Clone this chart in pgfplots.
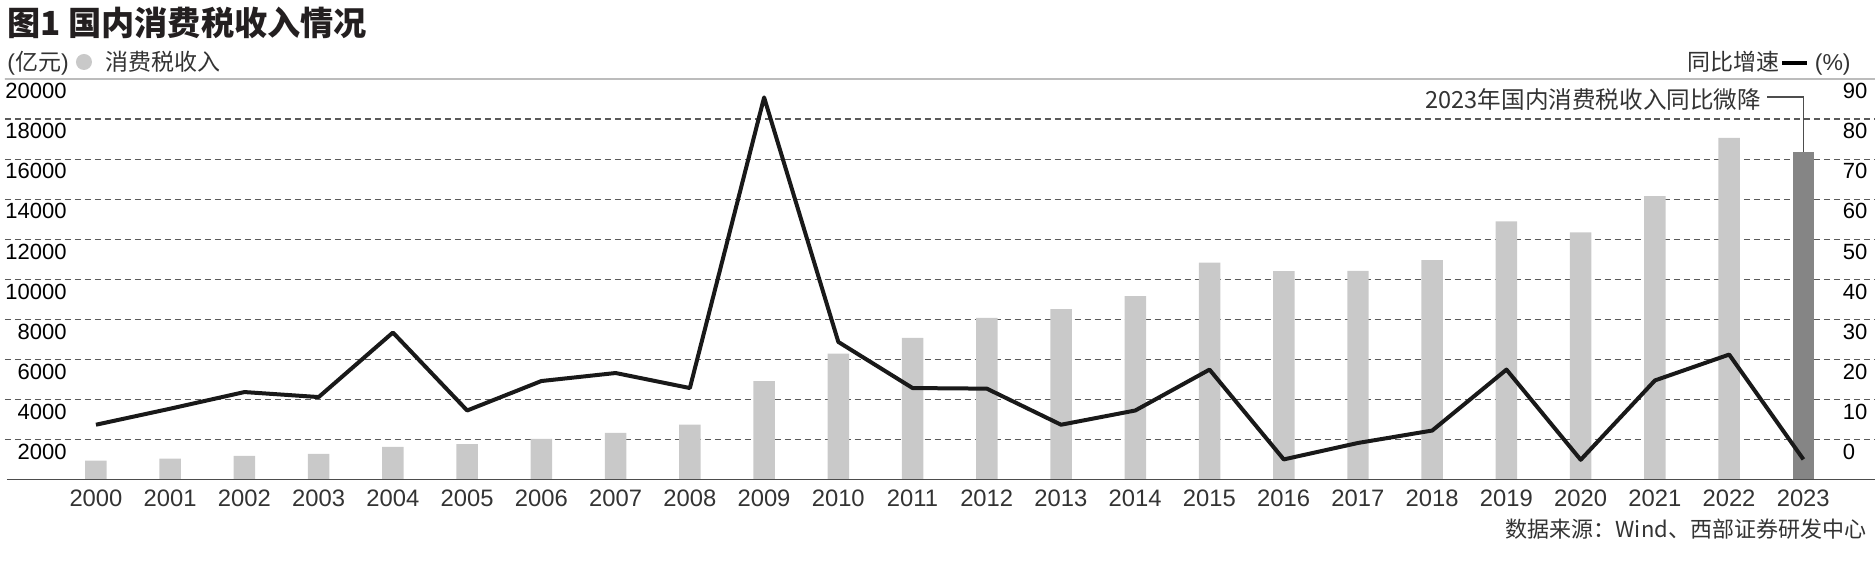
\documentclass[border=0pt]{standalone}
\usepackage{fontspec}
\usepackage{pgfplots}
\pgfplotsset{compat=1.18}
\setmainfont{Liberation Sans}
\newfontfamily\cjk{Noto Sans CJK SC}

\definecolor{barlight}{HTML}{C9C9C9}
\definecolor{bardark}{HTML}{858585}
\definecolor{gridc}{HTML}{5A5A5A}
\definecolor{axisc}{HTML}{4D4D4D}
\definecolor{topc}{HTML}{BCBCBC}
\definecolor{txt}{HTML}{333333}
\definecolor{ttl}{HTML}{231F20}

\begin{document}
\begin{tikzpicture}
% px grid: 1 unit = 1 pixel of the 1876x561 reference, origin top-left
\begin{scope}[x=0.5pt,y=-0.5pt]
\path[use as bounding box] (0,0) rectangle (1876,561);
\end{scope}

% revenue bars (left axis, 亿元)
\begin{axis}[
  at={(2.5pt,-240pt)}, anchor=south west,
  scale only axis, width=935.5pt, height=200.5pt,
  xmin=1998.7746, xmax=2023.97,
  ymin=0, ymax=20000,
  xtick={2000,...,2023},
  ytick={2000,4000,...,20000},
  /pgf/number format/.cd, 1000 sep={}, assume math mode=true,
  /pgfplots/.cd,
  scaled y ticks=false,
  axis line style={draw=none},
  major tick length=0pt,
  xtick pos=bottom, ytick pos=left,
  ymajorgrids,
  grid style={gridc, line width=0.6pt, dash pattern=on 3pt off 2pt},
  xticklabel style={font=\fontsize{11.9}{12}\selectfont, text=txt, anchor=base, inner sep=0pt, yshift=-13.5pt},
  yticklabel style={font=\fontsize{11}{11}\selectfont, text=black, anchor=north east, inner sep=0pt, xshift=31pt, yshift=-2pt},
]
\addplot[ybar, bar width=10.75pt, bar shift=0pt, fill=barlight, draw=none] coordinates {
  (2000,965) (2001,1065) (2002,1200) (2003,1300) (2004,1650) (2005,1780)
  (2006,2045) (2007,2345) (2008,2760) (2009,4925) (2010,6300) (2011,7080)
  (2012,8080) (2013,8515) (2014,9165) (2015,10835) (2016,10415) (2017,10420)
  (2018,10960) (2019,12900) (2020,12350) (2021,14150) (2022,17065)
};
\addplot[ybar, bar width=10.75pt, bar shift=0pt, fill=bardark, draw=none] coordinates {
  (2023,16365)
};
\draw[topc, line width=1pt] (rel axis cs:-0.003,1) -- (rel axis cs:1,1);
\draw[axisc, line width=1pt] (rel axis cs:0.001,0) -- (rel axis cs:1,0);
\draw[axisc, line width=0.6pt] (axis cs:2022.515,19102) -- (axis cs:2023,19102) -- (axis cs:2023,16365);
\end{axis}

% year-on-year growth line (right axis, %)
\begin{axis}[
  at={(2.5pt,-240pt)}, anchor=south west,
  scale only axis, width=935.5pt, height=200.5pt,
  xmin=1998.7746, xmax=2023.97,
  ymin=-10, ymax=90,
  axis x line=none, axis y line*=right,
  axis line style={draw=none},
  major tick length=0pt,
  ytick={0,10,...,90},
  /pgf/number format/assume math mode=true,
  yticklabel style={font=\fontsize{11}{11}\selectfont, text=black, anchor=north west, inner sep=0pt, xshift=-16.5pt, yshift=-2pt},
]
\addplot[color=black!90, line width=2pt, line join=round, mark=none] coordinates {
  (2000,3.75) (2001,7.75) (2002,11.9) (2003,10.65) (2004,26.75) (2005,7.3)
  (2006,14.65) (2007,16.65) (2008,12.9) (2009,85.4) (2010,24.4) (2011,12.9)
  (2012,12.75) (2013,3.75) (2014,7.3) (2015,17.5) (2016,-4.9) (2017,-0.8)
  (2018,2.3) (2019,17.5) (2020,-5.0) (2021,14.8) (2022,21.25) (2023,-4.9)
};
\end{axis}

% title, legends, notes
\begin{scope}[x=0.5pt,y=-0.5pt]
\node[anchor=base west, inner sep=0pt, text=ttl, font=\fontsize{16.6}{17}\selectfont\cjk\bfseries] at (7,35.5) {图1 国内消费税收入情况};
\node[anchor=base west, inner sep=0pt, text=txt, font=\fontsize{11.5}{12}\selectfont] at (7,71) {({\cjk 亿元})};
\fill[barlight] (84,62) circle (8);
\node[anchor=base west, inner sep=0pt, text=txt, font=\fontsize{11.5}{12}\selectfont\cjk] at (105,71) {消费税收入};
\node[anchor=base east, inner sep=0pt, text=txt, font=\fontsize{11.5}{12}\selectfont\cjk] at (1780,71) {同比增速};
\draw[black, line width=2pt] (1783,63) -- (1808,63);
\node[anchor=base west, inner sep=0pt, text=txt, font=\fontsize{11.5}{12}\selectfont] at (1815,71) {(\%)};
\node[anchor=base east, inner sep=0pt, text=txt, font=\fontsize{11.8}{12}\selectfont\cjk] at (1762,108.5) {2023年国内消费税收入同比微降};
\node[anchor=base east, inner sep=0pt, text=txt, font=\fontsize{11}{12}\selectfont\cjk] at (1867,538) {数据来源：Wind、西部证券研发中心};
\end{scope}
\end{tikzpicture}
\end{document}
